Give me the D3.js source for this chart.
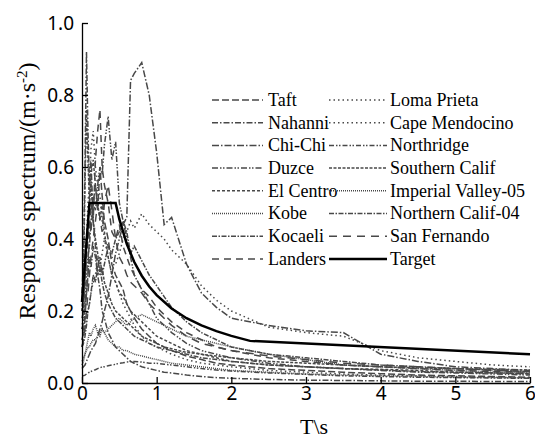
<!DOCTYPE html>
<html>
<head>
<meta charset="utf-8">
<script src="https://cdn.jsdelivr.net/npm/d3@7"></script>
<style>
  body { margin: 0; background: #fff; }
  .serif { font-family: "Liberation Serif", "Times New Roman", Times, "DejaVu Serif", serif; }
</style>
</head>
<body>
<div id="chart"></div>
<script>
// periods (s), shared by all records
const periods = [0, 0.02, 0.04, 0.06, 0.08, 0.1, 0.12, 0.15, 0.18, 0.21, 0.24, 0.27, 0.3, 0.35, 0.4, 0.45, 0.5, 0.55, 0.6, 0.65, 0.7, 0.8, 0.9, 1.0, 1.1, 1.2, 1.4, 1.6, 1.8, 2.0, 2.5, 3.0, 3.5, 4.0, 4.5, 5.0, 5.5, 6.0];

const taft = [0.18,0.2,0.28,0.35,0.4,0.45,0.42,0.5,0.55,0.48,0.6,0.52,0.45,0.4,0.33,0.3,0.28,0.26,0.22,0.2,0.18,0.15,0.13,0.11,0.1,0.09,0.075,0.065,0.055,0.05,0.04,0.035,0.03,0.026,0.022,0.02,0.018,0.016];
const nahanni = [0.25,0.35,0.6,0.92,0.7,0.55,0.62,0.45,0.38,0.3,0.26,0.2,0.18,0.14,0.12,0.1,0.09,0.08,0.07,0.06,0.055,0.045,0.04,0.035,0.03,0.028,0.022,0.018,0.015,0.013,0.01,0.008,0.007,0.006,0.005,0.005,0.004,0.004];
const chichi = [0.04,0.045,0.05,0.06,0.07,0.08,0.09,0.1,0.11,0.13,0.15,0.17,0.2,0.24,0.3,0.36,0.4,0.44,0.46,0.84,0.86,0.89,0.8,0.64,0.44,0.46,0.33,0.25,0.21,0.18,0.16,0.145,0.14,0.08,0.06,0.045,0.04,0.035];
const duzce = [0.15,0.17,0.22,0.3,0.35,0.38,0.45,0.5,0.48,0.55,0.6,0.58,0.66,0.74,0.62,0.67,0.5,0.45,0.4,0.35,0.3,0.26,0.22,0.18,0.16,0.14,0.11,0.09,0.08,0.07,0.055,0.045,0.04,0.035,0.03,0.028,0.025,0.022];
const elCentro = [0.2,0.22,0.3,0.4,0.45,0.5,0.58,0.62,0.55,0.5,0.45,0.5,0.42,0.35,0.3,0.28,0.25,0.24,0.22,0.2,0.19,0.17,0.15,0.13,0.12,0.11,0.09,0.08,0.07,0.06,0.05,0.045,0.04,0.038,0.035,0.03,0.028,0.026];
const kobe = [0.05,0.06,0.08,0.1,0.12,0.14,0.13,0.15,0.16,0.14,0.13,0.15,0.14,0.12,0.11,0.1,0.1,0.09,0.09,0.085,0.08,0.075,0.07,0.065,0.06,0.055,0.05,0.045,0.04,0.035,0.03,0.025,0.022,0.02,0.018,0.016,0.015,0.014];
const kocaeli = [0.1,0.11,0.13,0.16,0.2,0.22,0.25,0.3,0.28,0.32,0.35,0.3,0.33,0.38,0.36,0.4,0.42,0.45,0.42,0.36,0.38,0.34,0.3,0.27,0.24,0.21,0.17,0.14,0.12,0.1,0.08,0.07,0.06,0.05,0.045,0.04,0.036,0.032];
const landers = [0.1,0.12,0.18,0.25,0.3,0.42,0.5,0.45,0.62,0.7,0.76,0.6,0.55,0.5,0.42,0.4,0.44,0.38,0.35,0.32,0.3,0.26,0.24,0.21,0.19,0.17,0.14,0.12,0.1,0.09,0.07,0.06,0.05,0.045,0.04,0.035,0.032,0.03];
const lomaPrieta = [0.12,0.13,0.15,0.18,0.2,0.22,0.25,0.28,0.3,0.35,0.32,0.36,0.4,0.38,0.35,0.33,0.36,0.4,0.42,0.45,0.43,0.47,0.44,0.42,0.4,0.37,0.33,0.27,0.23,0.2,0.155,0.14,0.13,0.09,0.07,0.06,0.05,0.045];
const capeMendocino = [0.15,0.2,0.3,0.4,0.5,0.55,0.65,0.7,0.6,0.55,0.52,0.45,0.4,0.35,0.3,0.28,0.25,0.22,0.2,0.18,0.16,0.13,0.11,0.1,0.09,0.08,0.065,0.055,0.05,0.045,0.035,0.03,0.025,0.022,0.02,0.018,0.016,0.015];
const northridge = [0.02,0.02,0.022,0.025,0.028,0.03,0.032,0.035,0.037,0.04,0.042,0.045,0.045,0.048,0.05,0.052,0.055,0.056,0.058,0.06,0.06,0.058,0.055,0.055,0.052,0.05,0.045,0.04,0.036,0.033,0.028,0.024,0.02,0.018,0.016,0.015,0.014,0.013];
const southernCalif = [0.2,0.3,0.55,0.76,0.62,0.5,0.56,0.45,0.4,0.36,0.3,0.32,0.28,0.25,0.22,0.2,0.19,0.18,0.17,0.16,0.15,0.13,0.12,0.11,0.1,0.095,0.085,0.08,0.075,0.07,0.06,0.055,0.05,0.045,0.042,0.04,0.038,0.036];
const imperialValley = [0.06,0.07,0.08,0.09,0.1,0.1,0.11,0.12,0.12,0.13,0.14,0.15,0.14,0.15,0.16,0.17,0.18,0.17,0.16,0.17,0.18,0.19,0.18,0.17,0.16,0.15,0.13,0.12,0.11,0.1,0.08,0.065,0.05,0.045,0.04,0.035,0.03,0.028];
const northernCalif = [0.12,0.14,0.2,0.25,0.3,0.35,0.32,0.38,0.35,0.3,0.32,0.28,0.25,0.22,0.2,0.18,0.17,0.16,0.15,0.14,0.13,0.12,0.11,0.1,0.095,0.09,0.08,0.07,0.065,0.06,0.05,0.045,0.04,0.036,0.032,0.03,0.028,0.025];
const sanFernando = [0.1,0.12,0.15,0.2,0.25,0.3,0.35,0.4,0.45,0.5,0.46,0.42,0.5,0.55,0.48,0.4,0.35,0.33,0.3,0.28,0.27,0.25,0.22,0.2,0.18,0.16,0.13,0.11,0.1,0.09,0.075,0.065,0.055,0.05,0.045,0.04,0.035,0.032];

// design (target) spectrum
const targetT = [0, 0.1, 0.45, 0.5, 0.6, 0.7, 0.8, 0.9, 1.0, 1.2, 1.4, 1.6, 1.8, 2.0, 2.25, 6.0];
const targetSa = [0.225, 0.5, 0.5, 0.455, 0.386, 0.336, 0.298, 0.268, 0.244, 0.207, 0.18, 0.16, 0.144, 0.131, 0.117, 0.08];

const recordNames = ["Taft", "Nahanni", "Chi-Chi", "Duzce", "El Centro", "Kobe", "Kocaeli", "Landers",
                     "Loma Prieta", "Cape Mendocino", "Northridge", "Southern Calif", "Imperial Valley-05", "Northern Calif-04", "San Fernando"];
const recordValues = [taft, nahanni, chichi, duzce, elCentro, kobe, kocaeli, landers,
                      lomaPrieta, capeMendocino, northridge, southernCalif, imperialValley, northernCalif, sanFernando];

const xTicks = [0, 1, 2, 3, 4, 5, 6];
const yTicks = [0, 0.2, 0.4, 0.6, 0.8, 1.0];

// dash style per record
const dashes = {
    "Taft": "7,3",
    "Nahanni": "6,2,1.5,2",
    "Chi-Chi": "7,2,1.5,2",
    "Duzce": "6,2,1.5,1.5,1.5,2",
    "El Centro": "3,2",
    "Kobe": "1,1",
    "Kocaeli": "5,1.5,1.5,1.5",
    "Landers": "7,5",
    "Loma Prieta": "1.5,3",
    "Cape Mendocino": "1.5,3",
    "Northridge": "5,2,1.5,1.5,1.5,2",
    "Southern Calif": "3,1.5",
    "Imperial Valley-05": "1,1",
    "Northern Calif-04": "5,1.5,1.5,1.5",
    "San Fernando": "8,6"
};

const W = 535, H = 438;
const grey = "#484848";

const svg = d3.select("#chart").append("svg")
    .attr("width", W).attr("height", H);

const x = d3.scaleLinear().domain([0, 6]).range([82, 530]);
const y = d3.scaleLinear().domain([0, 1]).range([383, 23]);

const line = d3.line()
    .x(function(d) { return x(d[0]); })
    .y(function(d) { return y(d[1]); });

// records
recordNames.forEach(function(name, i) {
    const pts = periods.map(function(t, j) { return [t, recordValues[i][j]]; });
    svg.append("path")
        .datum(pts)
        .attr("d", line)
        .attr("fill", "none")
        .attr("stroke", grey)
        .attr("stroke-width", 1.5)
        .attr("stroke-dasharray", dashes[name]);
});

// target
svg.append("path")
    .datum(targetT.map(function(t, j) { return [t, targetSa[j]]; }))
    .attr("d", line)
    .attr("fill", "none")
    .attr("stroke", "#000")
    .attr("stroke-width", 2.5);

// axes
const xAxis = svg.append("g")
    .attr("transform", "translate(0," + y(0) + ")")
    .call(d3.axisBottom(x).tickValues(xTicks).tickFormat(d3.format("d"))
        .tickSizeInner(-6).tickSizeOuter(0).tickPadding(3));
const yAxis = svg.append("g")
    .attr("transform", "translate(" + x(0) + ",0)")
    .call(d3.axisLeft(y).tickValues(yTicks).tickFormat(d3.format(".1f"))
        .tickSizeInner(-6).tickSizeOuter(0).tickPadding(8));

[xAxis, yAxis].forEach(function(g) {
    g.selectAll("path, line").attr("stroke", "#000").attr("stroke-width", 1.3);
    g.selectAll("text")
        .attr("fill", "#000")
        .attr("font-family", "Noto Sans, sans-serif")
        .attr("font-size", 19);
});

// axis titles
svg.append("text")
    .attr("class", "serif")
    .attr("x", 314).attr("y", 434)
    .attr("text-anchor", "middle")
    .attr("font-size", 22)
    .text("T\\s");

const yt = svg.append("text")
    .attr("class", "serif")
    .attr("transform", "translate(35,191) rotate(-90)")
    .attr("text-anchor", "middle")
    .attr("font-size", 24);
yt.append("tspan").text("Response spectrum/(m\u00b7s");
yt.append("tspan").attr("baseline-shift", "super").attr("font-size", 15).text("-2");
yt.append("tspan").text(")");

// legend
const legendItems = recordNames.map(function(n) { return {name: n, target: false}; });
legendItems.push({name: "Target", target: true});

const legend = svg.append("g");
legendItems.forEach(function(d, i) {
    const col = i < 8 ? 0 : 1;
    const row = i % 8;
    const ly = 100 + row * 22.7;
    const x0 = col === 0 ? 212 : 329;
    const x1 = col === 0 ? 263 : 387;
    const tx = col === 0 ? 268 : 390;
    legend.append("line")
        .attr("x1", x0).attr("x2", x1).attr("y1", ly).attr("y2", ly)
        .attr("stroke", d.target ? "#000" : grey)
        .attr("stroke-width", d.target ? 2.5 : 1.5)
        .attr("stroke-dasharray", d.target ? null : dashes[d.name]);
    legend.append("text")
        .attr("class", "serif")
        .attr("x", tx).attr("y", ly)
        .attr("dy", "0.33em")
        .attr("font-size", 18)
        .text(d.name);
});
</script>
</body>
</html>
